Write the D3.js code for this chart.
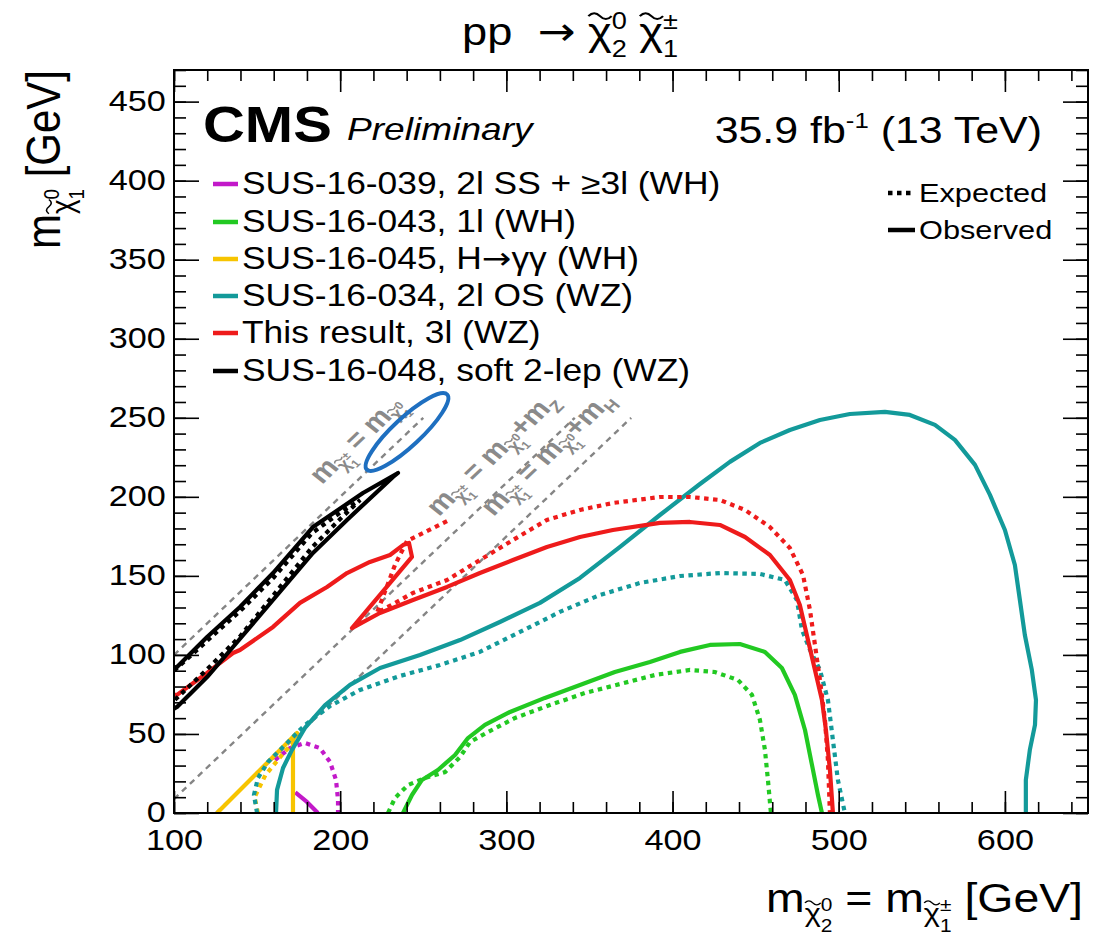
<!DOCTYPE html>
<html><head><meta charset="utf-8">
<script src="https://cdn.jsdelivr.net/npm/d3@7"></script>
<style>
body{margin:0;background:#fff}
svg text{font-family:"Liberation Sans",Arial,Helvetica,sans-serif;white-space:pre}
</style>
</head><body>
<svg id="chart" width="1114" height="936"></svg>
<script>
// Axis ranges and tick labels (GeV)
const xDomain = [100, 650];
const yDomain = [0, 470];
const xTicks = [100, 200, 300, 400, 500, 600];
const yTicks = [0, 50, 100, 150, 200, 250, 300, 350, 400, 450];
const xMinor = d3.range(100, 651, 20);
const yMinor = d3.range(0, 471, 10);

// Kinematic reference lines: m(chi1+-) = m(chi10) + offset
const diagOffsets = [0, 91.19, 125.1];
const diagTop = 250;

// Exclusion contours, points are [m(chi2,chi1+-), m(chi10)]
const sus039Obs = [[173,13],[180,7],[186.6,0]];
const sus039Exp = [[160.8,33.5],[169.8,41.1],[178.8,44.3],[187.8,41.1],[193.9,32.3],[197.5,20.9],[198.7,8.2],[198.7,0]];
const sus043Obs = [[237.8,0],[243.2,11.4],[249.2,20.9],[258.8,27.2],[269.1,36.7],[276.9,47.4],[287.1,55.7],[302.2,63.9],[323.2,72.8],[344.3,81],[365.3,89.2],[386.4,95.5],[404.5,101.9],[422.5,106.3],[440.5,106.9],[455.6,101.9],[465.8,91.7],[473.6,74.7],[479.7,52.5],[483.9,30.4],[487.5,11.4],[489.9,0]];
const sus043Exp = [[228.8,0],[233,9.5],[240.8,17.7],[251,22.1],[263.1,25.9],[272.1,35.4],[278.1,44.9],[288.9,51.2],[305.2,60.1],[326.2,68.3],[347.3,75.9],[368.4,81.6],[389.4,87.3],[410.5,90.5],[425.5,89.2],[439.4,84.1],[447.8,74.7],[452.6,58.8],[455.6,39.9],[457.4,20.9],[459.2,0]];
const sus045Obs = [[125.9,0],[174,50.6],[171.6,46.2],[171.6,0]];
const sus045Exp = [[150.5,0],[148.5,10],[155,24],[166,38],[174,47]];
const sus034Obs = [[161.4,0],[162,14.6],[165.6,28.5],[171,39.9],[178.8,53.8],[190.9,68.3],[205.9,81],[224,91.7],[248,100],[272.1,109.4],[296.1,120.8],[320.2,132.9],[344.3,148.7],[368.4,168.3],[392.4,188.5],[416.5,208.1],[434.5,222.1],[452.6,234.1],[470.6,242.3],[488.7,248.6],[506.7,252.4],[527.8,253.7],[542.8,251.8],[557.9,245.5],[569.9,236],[582,220.2],[591,201.2],[600,179],[606,156.9],[609,134.8],[612,112.6],[616.2,90.5],[618.7,71.5],[618.1,55.7],[615,39.9],[612.6,20.9],[612.6,0]];
const sus034Exp = [[150,0],[148.1,11.4],[150.5,22.1],[156.6,32.3],[166.8,43],[178.8,55.7],[193.9,67.7],[211.9,77.8],[236,86.7],[260,93.6],[284.1,101.9],[308.2,114.5],[332.2,127.2],[356.3,137.9],[380.4,145.5],[404.5,149.9],[428.5,151.8],[452.6,151.2],[467.6,147.4],[474.8,134.8],[477.9,115.8],[482.7,103.1],[488.7,90.5],[493.5,71.5],[496.5,46.2],[499.5,20.9],[503.7,0]];
const thisObs = [[100,74.7],[101.8,74.7],[119.9,88.6],[135.5,101.2],[139.7,103.1],[159.6,117.7],[175.8,132.9],[192.1,143],[204.1,151.8],[217.9,158.8],[230,163.2],[237.8,169.5],[241.4,170.8],[243.2,162],[207.1,117],[223.9,126.5],[243.8,134.7],[264.3,143],[284.1,151.8],[304,160],[324.4,168.3],[344.3,174.6],[364.1,179],[392.4,183.5],[410.5,184.1],[428.5,182.2],[443.6,174.6],[458.6,163.2],[470.6,147.4],[476.6,131.6],[481.5,109.4],[485.7,90.5],[489.9,71.5],[492.3,52.5],[494.7,27.2],[496.5,0]];
const thisExp = [[264.3,184.7],[240.2,172.1],[233,156.9],[222.1,126.5],[243.8,139.2],[264.3,147.4],[284.1,160],[304,172.7],[324.4,185.4],[344.3,191.7],[364.1,196.1],[392.4,199.9],[410.5,199.9],[428.5,198],[443.6,191.7],[458.6,180.9],[470.6,167.6],[478.5,150.6],[482.7,128.4],[485.7,106.3],[488.7,84.1],[491.7,58.8],[493.5,33.5],[494.7,0]];
const sus048Obs = [[100,92],[101.8,92.4],[119.9,111.3],[139.7,130.3],[159.6,151.8],[183.6,180.9],[213.7,202.4],[234.8,215.1],[231.8,212.6],[204.1,185.4],[183.6,164.5],[156,130.3],[135.5,105],[119.9,86],[101.8,67.1],[100,66]];
const sus048Exp = [[100,90],[120,109],[140,128],[160,149],[183,177],[200,190],[212,198],[200,186],[183,168],[160,138],[140,112],[120,91],[100,71]];

// Legend
const legendLabels = [
  ["SUS-16-039, 2l SS + \u22653l (WH)"],
  ["SUS-16-043, 1l (WH)"],
  ["SUS-16-045, H", "\u2192", "\u03B3\u03B3 (WH)"],
  ["SUS-16-034, 2l OS (WZ)"],
  ["This result, 3l (WZ)"],
  ["SUS-16-048, soft 2-lep (WZ)"]
];
const legendColors = ["#c219c9","#22c922","#f7c400","#139a9a","#ee1b1b","#000000"];

const series = [
  {obs: sus039Obs, exp: sus039Exp, color: legendColors[0]},
  {obs: sus043Obs, exp: sus043Exp, color: legendColors[1]},
  {obs: sus045Obs, exp: sus045Exp, color: legendColors[2]},
  {obs: sus034Obs, exp: sus034Exp, color: legendColors[3]},
  {obs: thisObs, exp: thisExp, color: legendColors[4]},
  {obs: sus048Obs, exp: sus048Exp, color: legendColors[5]}
];

const svg = d3.select("#chart");
const L = 174, R = 1088, T = 70, B = 813;
const x = d3.scaleLinear(xDomain, [L, R]);
const y = d3.scaleLinear(yDomain, [B, T]);
const SX = 1.16; // horizontal text stretch
const ARROW_FONT = '"DejaVu Sans",sans-serif';

// Text built from runs; stacked super/subscripts share one x position,
// runs flagged with tilde get a wide tilde drawn over them
function rich(parent, px, py, runs, o = {}) {
  const size = o.size || 30;
  const sx = o.sx ?? SX;
  const fill = o.fill || "#000";
  const outer = parent.append("g")
    .attr("transform", `translate(${px},${py}) scale(${sx},1)` + (o.rot ? ` rotate(${o.rot})` : ""));
  const g = outer.append("g");
  let cx = 0;
  const mk = (t, k, dy, xx, ff) => {
    const el = g.append("text")
      .attr("x", xx).attr("y", (dy || 0) * size)
      .attr("font-size", size * (k || 1))
      .attr("font-weight", o.weight || "normal")
      .attr("font-style", o.style || "normal")
      .attr("fill", fill)
      .text(t);
    if (ff) el.style("font-family", ff);
    return el;
  };
  runs.forEach(r => {
    if (r.stack) {
      let w = 0;
      r.stack.forEach(s => { w = Math.max(w, mk(s.t, s.k, s.dy, cx).node().getComputedTextLength()); });
      cx += w;
    } else {
      const w = mk(r.t, r.k, r.dy, cx, r.ff).node().getComputedTextLength();
      if (r.tilde) {
        const fs = size * (r.k || 1);
        const yb = (r.dy || 0) * size - 0.74 * fs;
        const h = 0.075 * fs, a = cx + 0.02 * w, span = w * 0.98;
        g.append("path")
          .attr("d", `M${a},${yb} q${span / 4},${-2 * h} ${span / 2},0 t${span / 2},0`)
          .attr("fill", "none").attr("stroke", fill)
          .attr("stroke-width", Math.max(1, 0.05 * fs) * (o.weight === "bold" ? 1.4 : 1));
      }
      cx += w;
    }
  });
  const shift = o.anchor === "end" ? -cx : o.anchor === "middle" ? -cx / 2 : 0;
  g.attr("transform", `translate(${shift},0)`);
  return outer;
}
const chi = (k, dy) => ({t: "\u03C7", tilde: true, k, dy});

// Clip for curves
svg.append("clipPath").attr("id", "plotClip").append("rect")
  .attr("x", L).attr("y", T).attr("width", R - L).attr("height", B - T);

// Diagonal reference lines
const diagLine = d3.line().x(d => x(d[0])).y(d => y(d[1]));
const diagG = svg.append("g").attr("clip-path", "url(#plotClip)");
diagOffsets.forEach(off => {
  const x0 = Math.max(xDomain[0], off);
  diagG.append("path")
    .attr("d", diagLine([[x0, x0 - off], [diagTop + off, diagTop]]))
    .attr("fill", "none").attr("stroke", "#858585").attr("stroke-width", 2.4)
    .attr("stroke-dasharray", "6 5");
});

// Diagonal labels
const angle = Math.atan((y(0) - y(1)) / (x(1) - x(0)) * SX) * 180 / Math.PI;
const lblOpt = {size: 26, weight: "bold", fill: "#8a8a8a", rot: -angle};
const subChi = (a, b) => [chi(0.62, 0.22), {stack: [{t: a, k: 0.42, dy: -0.02}, {t: b, k: 0.42, dy: 0.42}]}];
const lblBase = [{t: "m"}, ...subChi("\u00B1", "1"), {t: " = m"}, ...subChi("0", "1")];
const diagLabels = [
  {pos: [189, 207.5], runs: lblBase},
  {pos: [259.5, 187.3], runs: [...lblBase, {t: "+m"}, {t: "Z", k: 0.62, dy: 0.25}]},
  {pos: [292.3, 187.3], runs: [...lblBase, {t: "+m"}, {t: "H", k: 0.62, dy: 0.25}]}
];
diagLabels.forEach(d => rich(svg, x(d.pos[0]), y(d.pos[1]), d.runs, lblOpt));

// Contours
const curve = d3.line().x(d => x(d[0])).y(d => y(d[1])).curve(d3.curveLinear);
const cG = svg.append("g").attr("clip-path", "url(#plotClip)");
series.forEach(s => {
  cG.append("path").attr("d", curve(s.exp)).attr("fill", "none")
    .attr("stroke", s.color).attr("stroke-width", 4.2).attr("stroke-dasharray", "4.5 4.5");
  cG.append("path").attr("d", curve(s.obs)).attr("fill", "none")
    .attr("stroke", s.color).attr("stroke-width", 4.2).attr("stroke-linejoin", "round");
});

// Highlight ellipse at the end of the compressed diagonal
svg.append("ellipse")
  .attr("transform", `translate(${x(240.2)},${y(241)}) rotate(-43)`)
  .attr("rx", 55).attr("ry", 14)
  .attr("fill", "none").attr("stroke", "#1e6fc0").attr("stroke-width", 4);

// Axes: major and minor ticks on all four sides
const axG = svg.append("g");
function addAxis(axis, tf) {
  const g = axG.append("g").attr("transform", tf).call(axis);
  g.select(".domain").remove();
  g.selectAll(".tick line").attr("stroke", "#000").attr("stroke-width", 1.6);
  return g;
}
const fmt = d => d;
const bottom = addAxis(d3.axisBottom(x).tickValues(xTicks).tickSize(-22).tickPadding(16).tickFormat(fmt), `translate(0,${B})`);
addAxis(d3.axisBottom(x).tickValues(xMinor).tickSize(-11).tickFormat(""), `translate(0,${B})`);
addAxis(d3.axisTop(x).tickValues(xTicks).tickSize(-22).tickFormat(""), `translate(0,${T})`);
addAxis(d3.axisTop(x).tickValues(xMinor).tickSize(-11).tickFormat(""), `translate(0,${T})`);
const left = addAxis(d3.axisLeft(y).tickValues(yTicks).tickSize(-25).tickPadding(7).tickFormat(fmt), `translate(${L},0)`);
addAxis(d3.axisLeft(y).tickValues(yMinor).tickSize(-12).tickFormat(""), `translate(${L},0)`);
addAxis(d3.axisRight(y).tickValues(yTicks).tickSize(-25).tickFormat(""), `translate(${R},0)`);
addAxis(d3.axisRight(y).tickValues(yMinor).tickSize(-12).tickFormat(""), `translate(${R},0)`);
[bottom, left].forEach(g => g.selectAll("text")
  .attr("font-size", 29.5).attr("fill", "#000")
  .attr("font-family", '"Liberation Sans",Arial,sans-serif')
  .attr("transform", `scale(${SX},1)`));
left.selectAll("text").attr("x", -7).attr("dy", "0.3em");

svg.append("rect").attr("x", L).attr("y", T).attr("width", R - L).attr("height", B - T)
  .attr("fill", "none").attr("stroke", "#000").attr("stroke-width", 2);

// Titles
rich(svg, 462, 45, [{t: "pp  "}, {t: "\u2192", ff: ARROW_FONT}, {t: " "}, chi(1, 0), {stack: [{t: "0", k: 0.6, dy: -0.42}, {t: "2", k: 0.6, dy: 0.3}]}, {t: " "}, chi(1, 0), {stack: [{t: "\u00B1", k: 0.6, dy: -0.42}, {t: "1", k: 0.6, dy: 0.3}]}], {size: 39});

const axChi = (a, b) => [chi(0.66, 0.26), {stack: [{t: a, k: 0.45, dy: -0.02}, {t: b, k: 0.45, dy: 0.5}]}];
rich(svg, 1083, 912, [{t: "m"}, ...axChi("0", "2"), {t: " = m"}, ...axChi("\u00B1", "1"), {t: " [GeV]"}], {size: 40, anchor: "end"});
rich(svg, 60, 70, [{t: "m"}, ...axChi("0", "1"), {t: " [GeV]"}], {size: 42, anchor: "end", rot: -90});

// CMS label and luminosity
rich(svg, 203, 142, [{t: "CMS"}], {size: 50, weight: "bold"});
rich(svg, 347, 140, [{t: "Preliminary"}], {size: 32, style: "italic"});
rich(svg, 1042, 143, [{t: "35.9 fb"}, {t: "-1", k: 0.6, dy: -0.4}, {t: " (13 TeV)"}], {size: 37, anchor: "end"});

// Analysis legend
const legY = [184, 222, 259, 296, 333, 371];
legendLabels.forEach((parts, i) => {
  svg.append("line").attr("x1", 213).attr("x2", 238).attr("y1", legY[i]).attr("y2", legY[i])
    .attr("stroke", legendColors[i]).attr("stroke-width", 4.5);
  const runs = parts.map(p => p === "\u2192" ? {t: p, ff: ARROW_FONT} : {t: p});
  rich(svg, 242, legY[i] + 10, runs, {size: 30.5});
});

// Line-style legend
const styleLabels = ["Expected", "Observed"];
const styleDash = ["4.5 4.5", null];
[193, 230].forEach((ly, i) => {
  svg.append("line").attr("x1", 888).attr("x2", 915).attr("y1", ly).attr("y2", ly)
    .attr("stroke", "#000").attr("stroke-width", 4.5).attr("stroke-dasharray", styleDash[i]);
  rich(svg, 919, ly + 9, [{t: styleLabels[i]}], {size: 26.5});
});
</script>
</body></html>
